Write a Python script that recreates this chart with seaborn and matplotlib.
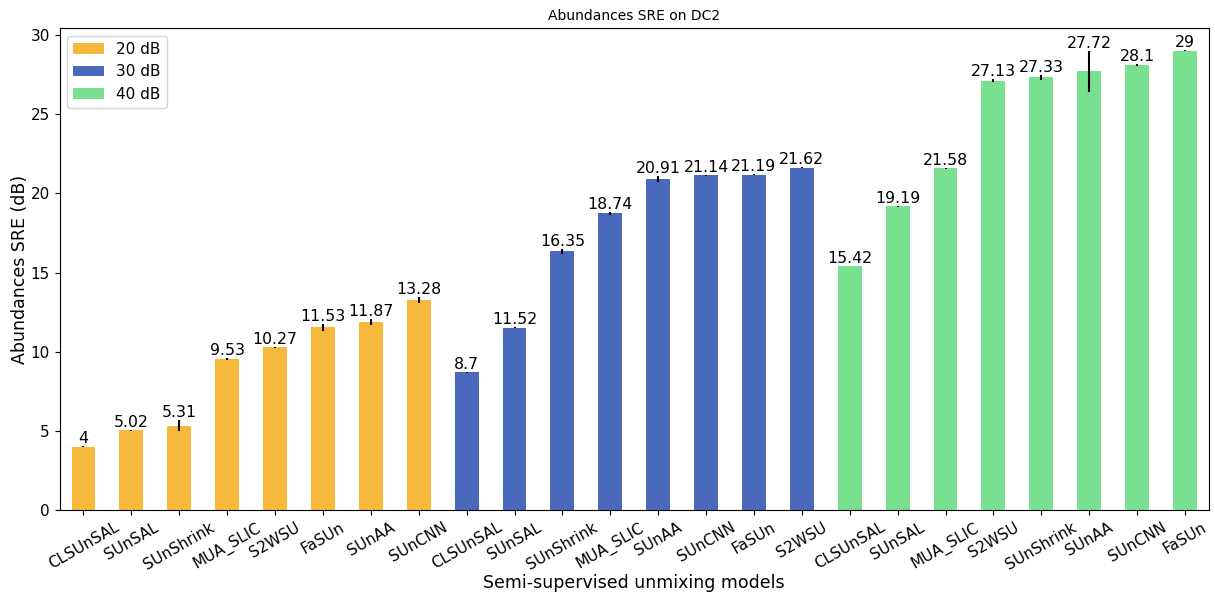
import numpy as np
import pandas as pd
import seaborn as sns
import matplotlib.pyplot as plt

# SRE results per noise level
models_20 = ['CLSUnSAL', 'SUnSAL', 'SUnShrink', 'MUA_SLIC', 'S2WSU', 'FaSUn', 'SUnAA', 'SUnCNN']
sre_20 = [4, 5.02, 5.31, 9.53, 10.27, 11.53, 11.87, 13.28]
std_20 = [0.01, 0.02, 0.35, 0.08, 0.02, 0.2, 0.2, 0.2]

models_30 = ['CLSUnSAL', 'SUnSAL', 'SUnShrink', 'MUA_SLIC', 'SUnAA', 'SUnCNN', 'FaSUn', 'S2WSU']
sre_30 = [8.7, 11.52, 16.35, 18.74, 20.91, 21.14, 21.19, 21.62]
std_30 = [0.02, 0.03, 0.15, 0.08, 0.2, 0.03, 0.03, 0.03]

models_40 = ['CLSUnSAL', 'SUnSAL', 'MUA_SLIC', 'S2WSU', 'SUnShrink', 'SUnAA', 'SUnCNN', 'FaSUn']
sre_40 = [15.42, 19.19, 21.58, 27.13, 27.33, 27.72, 28.1, 29]
std_40 = [0.01, 0.02, 0.02, 0.1, 0.15, 1.3, 0.05, 0.03]

snr_levels = ['20 dB', '30 dB', '40 dB']
colors = ['#f6b93b', '#4a69bd', '#78e08f']

df = pd.DataFrame({
    'model': models_20 + models_30 + models_40,
    'sre': sre_20 + sre_30 + sre_40,
    'std': std_20 + std_30 + std_40,
    'snr': [snr_levels[0]] * len(models_20) + [snr_levels[1]] * len(models_30) + [snr_levels[2]] * len(models_40),
})
df['pos'] = np.arange(len(df))

fig, ax = plt.subplots(figsize=(12.15, 5.95), dpi=100)
fig.subplots_adjust(left=0.049, right=0.995, top=0.953, bottom=0.143)

sns.barplot(data=df, x='pos', y='sre', hue='snr', palette=colors, dodge=False,
            width=0.5, saturation=1, errorbar=None, ax=ax)

# error bars from the run-to-run std
ax.errorbar(df['pos'], df['sre'], yerr=df['std'], fmt='none', ecolor='black', elinewidth=1.5)

for p, v, e in zip(df['pos'], df['sre'], df['std']):
    ax.text(p, v + e, '%g' % v, ha='center', va='bottom', fontsize=11.3)

ax.set_xticks(df['pos'])
ax.set_xticklabels(df['model'], rotation=30, fontsize=11)
ax.tick_params(axis='y', labelsize=11)
ax.set_xlim(-0.5, len(df) - 0.5)
ax.set_ylim(0, 30.45)
ax.set_xlabel('Semi-supervised unmixing models', fontsize=12.5, labelpad=1)
ax.set_ylabel('Abundances SRE (dB)', fontsize=12.5, labelpad=1)
ax.set_title('Abundances SRE on DC2', fontsize=10)
ax.legend(loc='upper left', fontsize=11)

plt.savefig('out.png', dpi=100)
